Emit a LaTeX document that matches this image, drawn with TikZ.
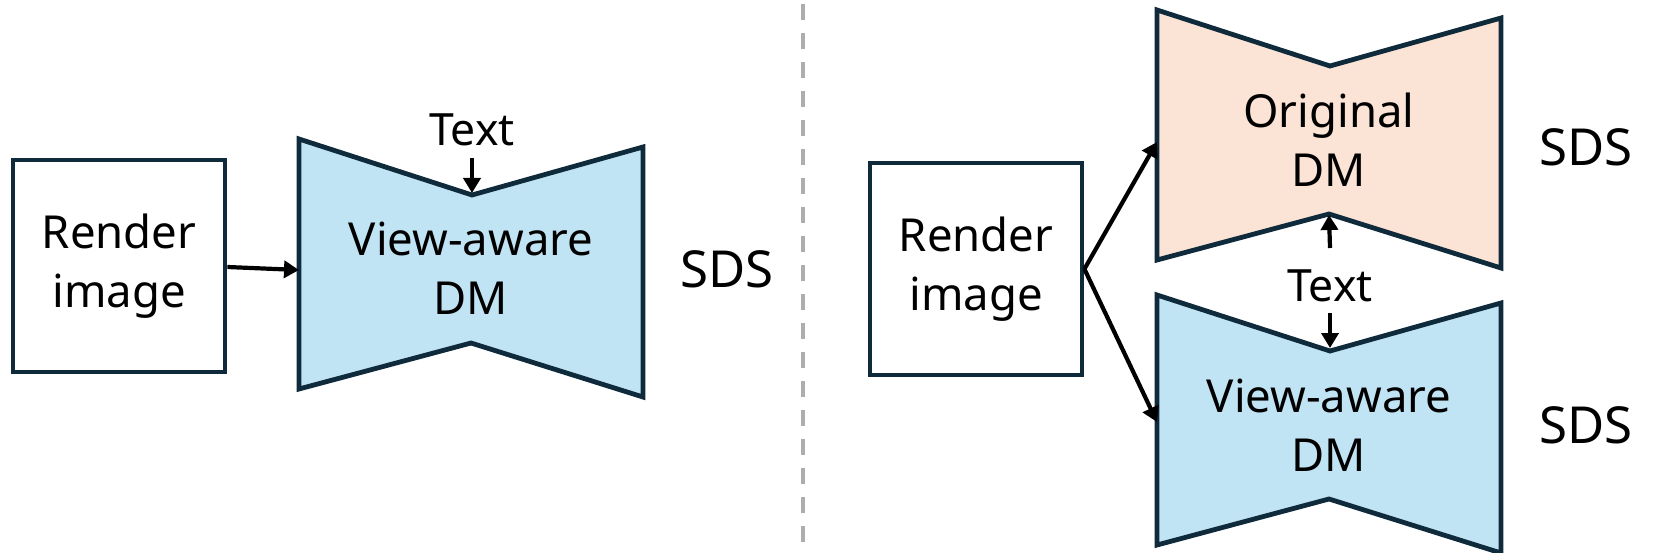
\documentclass[tikz,border=0pt]{standalone}
\usepackage{fontspec}
\setmainfont{Noto Sans}
\usetikzlibrary{arrows.meta}
\definecolor{edgeblue}{HTML}{0E2A3B}
\definecolor{dmblue}{HTML}{C1E4F5}
\definecolor{dmpeach}{HTML}{FBE3D6}
\definecolor{divgray}{HTML}{ADADAD}
\newcommand\dmpoly[3]{%
  \draw[shapeline,fill=#3] (#1,#2) -- ++(173,56) -- ++(171,-48) -- ++(0,250)
    -- ++(-172,-54) -- ++(-172,46) -- cycle;}
\begin{document}
\begin{tikzpicture}[x=1pt,y=-1pt,
  shapeline/.style={draw=edgeblue,line width=4.8pt,line join=miter},
  renderbox/.style={shapeline,minimum width=212pt,minimum height=212pt,
    align=center,font=\fontsize{45.5}{59}\selectfont,inner sep=0pt},
  dmlabel/.style={align=center,font=\fontsize{45.5}{59}\selectfont,inner sep=0pt},
  sdslabel/.style={anchor=base,font=\fontsize{51}{60}\selectfont,inner sep=0pt},
  textlabel/.style={anchor=base,font=\fontsize{44.5}{50}\selectfont,inner sep=0pt},
  arr/.style={draw=black,line width=4.2pt,-{Triangle[length=15pt,width=17pt]}},
  divider/.style={draw=divgray,line width=4.5pt,dash pattern=on 16pt off 13pt}]
\useasboundingbox (0,0) rectangle (1661,553);

% divider
\coordinate (divtop) at (803,4);
\coordinate (divbot) at (803,553);
\draw[divider] (divtop) -- (divbot);

% ---------- left panel ----------
\node[renderbox] (lrender) at (119,266) {Render\\image};
\dmpoly{299}{139}{dmblue}
\coordinate (lin) at (299,270);
\coordinate (ltop) at (472,193);
\node[dmlabel] (ldm) at (471,268) {View-aware\\DM};
\node[textlabel] (ltext) at (472,146) {Text};
\node[sdslabel] (lsds) at (727,287) {SDS};
\draw[arr] ([yshift=-1pt]lrender.east) -- (lin);
\draw[arr] ([yshift=-12pt]ltext.base) -- (ltop);

% ---------- right panel ----------
\node[renderbox] (rrender) at (976,269) {Render\\image};
\dmpoly{1157}{10}{dmpeach}
\dmpoly{1157}{295}{dmblue}
\coordinate (rtopin) at (1157,142);
\coordinate (rbotin) at (1157,422);
\coordinate (rtopnotch) at (1329,215);
\coordinate (rbotnotch) at (1330,348);
\node[dmlabel] (rorig) at (1329,140) {Original\\DM};
\node[dmlabel] (rview) at (1329,425) {View-aware\\DM};
\node[textlabel] (rtext) at (1330,301) {Text};
\node[sdslabel] (rsds1) at (1586,166) {SDS};
\node[sdslabel] (rsds2) at (1586,443) {SDS};
\draw[arr] (rrender.east) -- (rtopin);
\draw[arr] (rrender.east) -- (rbotin);
\draw[arr] ([yshift=53pt]rtext.base) -- (rtopnotch);
\draw[arr] ([yshift=-12pt]rtext.base) -- (rbotnotch);
\end{tikzpicture}
\end{document}
